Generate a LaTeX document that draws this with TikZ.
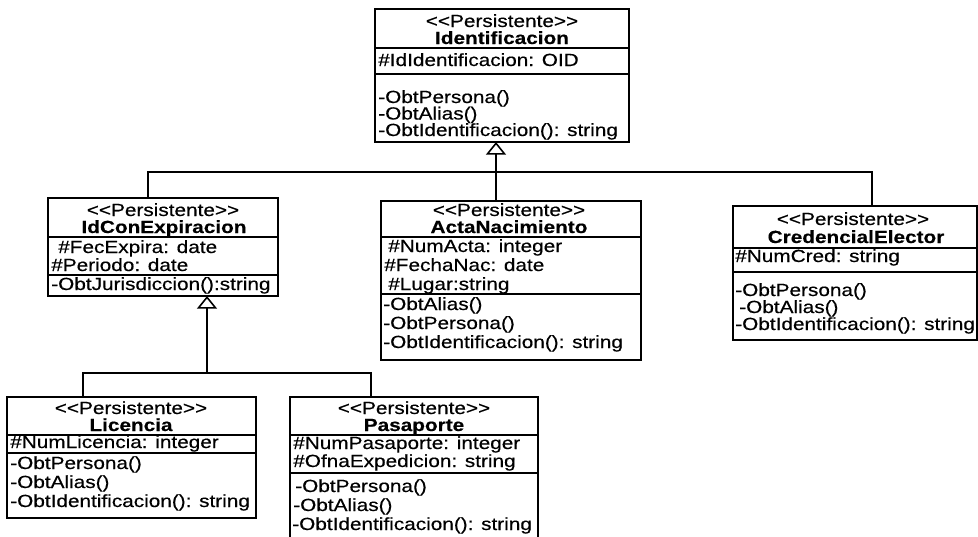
\documentclass[tikz,border=0pt]{standalone}
\usepackage{fontspec}
\newfontfamily\umlfont{Liberation Sans}[FakeStretch=1.18, FakeBold=0.4]
\usetikzlibrary{arrows.meta,calc,fit}

\begin{document}
\begin{tikzpicture}[x=0.75pt,y=-0.75pt,
  classbox/.style={draw, line width=1.2pt, inner sep=0pt, outer sep=0pt},
  txt/.style={inner sep=0pt, anchor=base west, font=\umlfont\fontsize{13.2}{15}\selectfont},
  ctr/.style={inner sep=0pt, anchor=base, font=\umlfont\fontsize{13.2}{15}\selectfont},
  cname/.style={ctr, font=\umlfont\fontsize{13.2}{15}\selectfont\bfseries},
  sepline/.style={line width=1.2pt},
  conn/.style={line width=1.2pt},
  gen/.style={conn, -{Triangle[open, width=15pt, length=9.5pt]}}]

\fill[white] (0,0) rectangle (978,536);
\useasboundingbox (0,0) rectangle (978,536);

% ---------- Identificacion ----------
\node[classbox, fit={(375,9) (629,142)}] (ident) {};
\node[ctr]   (ident-st) at (502,27) {<<Persistente>>};
\node[cname] (ident-nm) at (502,44) {Identificacion};
\draw[sepline] (ident.west |- 0,48) -- (ident.east |- 0,48);
\node[txt] (ident-a1) at (378,66) {\#IdIdentificacion: OID};
\draw[sepline] (ident.west |- 0,74) -- (ident.east |- 0,74);
\node[txt] (ident-m1) at (378,103) {-ObtPersona()};
\node[txt] (ident-m2) at (378,119.5) {-ObtAlias()};
\node[txt] (ident-m3) at (378,136) {-ObtIdentificacion(): string};

% ---------- IdConExpiracion ----------
\node[classbox, fit={(48,198) (278,296)}] (idexp) {};
\node[ctr]   (idexp-st) at (163,216) {<<Persistente>>};
\node[cname] (idexp-nm) at (164,233) {IdConExpiracion};
\draw[sepline] (idexp.west |- 0,237) -- (idexp.east |- 0,237);
\node[txt] (idexp-a1) at (58,253) {\#FecExpira: date};
\node[txt] (idexp-a2) at (51,271) {\#Periodo: date};
\draw[sepline] (idexp.west |- 0,275) -- (idexp.east |- 0,275);
\node[txt] (idexp-m1) at (51,290) {-ObtJurisdiccion():string};

% ---------- ActaNacimiento ----------
\node[classbox, fit={(381,201) (641,360)}] (acta) {};
\node[ctr]   (acta-st) at (509,216) {<<Persistente>>};
\node[cname] (acta-nm) at (509,233) {ActaNacimiento};
\draw[sepline] (acta.west |- 0,237) -- (acta.east |- 0,237);
\node[txt] (acta-a1) at (388,252) {\#NumActa: integer};
\node[txt] (acta-a2) at (384,271) {\#FechaNac: date};
\node[txt] (acta-a3) at (388,290) {\#Lugar:string};
\draw[sepline] (acta.west |- 0,294) -- (acta.east |- 0,294);
\node[txt] (acta-m1) at (383,310) {-ObtAlias()};
\node[txt] (acta-m2) at (383,329) {-ObtPersona()};
\node[txt] (acta-m3) at (383,348) {-ObtIdentificacion(): string};

% ---------- CredencialElector ----------
\node[classbox, fit={(733,206) (977,340)}] (cred) {};
\node[ctr]   (cred-st) at (853,225) {<<Persistente>>};
\node[cname] (cred-nm) at (856,243) {CredencialElector};
\draw[sepline] (cred.west |- 0,248) -- (cred.east |- 0,248);
\node[txt] (cred-a1) at (735,262) {\#NumCred: string};
\draw[sepline] (cred.west |- 0,272) -- (cred.east |- 0,272);
\node[txt] (cred-m1) at (735,296) {-ObtPersona()};
\node[txt] (cred-m2) at (739,313) {-ObtAlias()};
\node[txt] (cred-m3) at (735,330) {-ObtIdentificacion(): string};

% ---------- Licencia ----------
\node[classbox, fit={(7,397) (256,518)}] (lic) {};
\node[ctr]   (lic-st) at (131,414) {<<Persistente>>};
\node[cname] (lic-nm) at (131,431) {Licencia};
\draw[sepline] (lic.west |- 0,435) -- (lic.east |- 0,435);
\node[txt] (lic-a1) at (10,448) {\#NumLicencia: integer};
\draw[sepline] (lic.west |- 0,453) -- (lic.east |- 0,453);
\node[txt] (lic-m1) at (10,469) {-ObtPersona()};
\node[txt] (lic-m2) at (10,488) {-ObtAlias()};
\node[txt] (lic-m3) at (10,507) {-ObtIdentificacion(): string};

% ---------- Pasaporte ----------
\node[classbox, fit={(290,397) (538,540)}] (pasa) {};
\node[ctr]   (pasa-st) at (414,414) {<<Persistente>>};
\node[cname] (pasa-nm) at (414,431) {Pasaporte};
\draw[sepline] (pasa.west |- 0,435) -- (pasa.east |- 0,435);
\node[txt] (pasa-a1) at (293,449) {\#NumPasaporte: integer};
\node[txt] (pasa-a2) at (293,467) {\#OfnaExpedicion: string};
\draw[sepline] (pasa.west |- 0,473) -- (pasa.east |- 0,473);
\node[txt] (pasa-m1) at (295,492) {-ObtPersona()};
\node[txt] (pasa-m2) at (293,511) {-ObtAlias()};
\node[txt] (pasa-m3) at (292,530) {-ObtIdentificacion(): string};

% ---------- generalisation connectors ----------
\coordinate (j1) at (496,172);
\coordinate (j2) at (207,373);
\draw[gen]  (acta.north -| j1) -- (ident.south -| j1);
\draw[conn] ($(idexp.north west)+(100,0)$) |- (j1);
\draw[conn] ($(cred.north west)+(139,0)$) |- (j1);
\draw[gen]  (j2) -- (idexp.south -| j2);
\draw[conn] ($(lic.north west)+(76,0)$) |- (j2);
\draw[conn] ($(pasa.north west)+(81,0)$) |- (j2);
\end{tikzpicture}
\end{document}
